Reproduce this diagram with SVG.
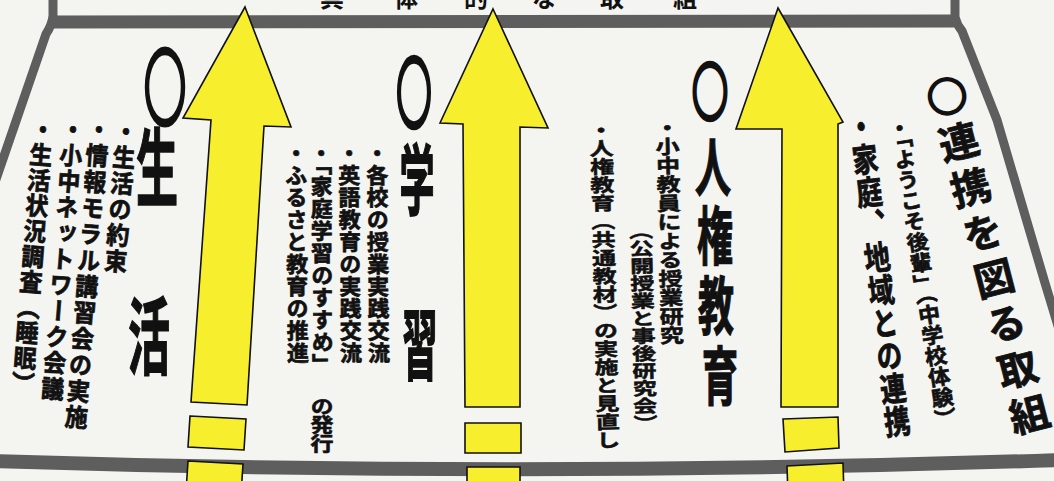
<svg xmlns="http://www.w3.org/2000/svg" width="1054" height="481" viewBox="0 0 1054 481">
<style>
  .bg { fill: #f4f4f1; }
  .frame { fill: none; stroke: #5e5e5e; stroke-linejoin: round; stroke-linecap: butt; }
  .arrow { fill: #f7ef2e; stroke: #111; stroke-width: 1.6; stroke-linejoin: miter; }
  .t { font-family: "Noto Sans CJK JP", "Noto Sans CJK SC", sans-serif; font-weight: 700; fill: #111; }
  .s { stroke: #111; stroke-width: 0.7; }
  .h { stroke: #111; stroke-width: 0.8; }
  .ring { stroke: #111; stroke-width: 2.6; }
  .v { writing-mode: vertical-rl; }
</style>
<rect class="bg" x="0" y="0" width="1054" height="481"/>

<g id="frame">
  <path class="frame" stroke-width="9" d="M53,-5 L53,16 Q52,25 46,34 L-6,185"/>
  <path class="frame" stroke-width="13" d="M50,22 L958,21"/>
  <path class="frame" stroke-width="9" d="M955,-5 L955,17 Q957,25 962,31 L997,120 L1045,283 L1078,392"/>
  <path class="frame" stroke-width="14" d="M-6,461 Q527,478 1060,460"/>
</g>

<g id="title">
  <text class="t" font-size="24" x="332 406 476 544 612 685" y="7" text-anchor="middle">具体的な取組</text>
</g>

<g id="connectors">
  <polygon class="arrow" points="245,7 291,127 264,126 247,405 191,402 211,120 183,118"/>
  <polygon class="arrow" points="190,416 246,419 244,450 188,447"/>
  <polygon class="arrow" points="188,461 243,464 241,495 186,492"/>

  <polygon class="arrow" points="493,9 548,128 520,127 520,407 465,407 463,124 440,123"/>
  <polygon class="arrow" points="465,423 521,423 521,453 465,453"/>
  <polygon class="arrow" points="467,467 520,467 520,495 467,495"/>

  <polygon class="arrow" points="778,8 843,122 838,124 838,407 781,407 782,129 736,129"/>
  <polygon class="arrow" points="783,419 838,417 839,448 785,452"/>
  <polygon class="arrow" points="787,466 843,463 844,495 788,495"/>
</g>

<g id="node-seikatsu">
  <text class="t h" font-size="42" transform="scale(1,2)" x="165 157 149" y="59.5 99.5 184" text-anchor="middle"><tspan class="ring">○</tspan>生活</text>
  <g transform="translate(127,119) rotate(4.5) scale(1,1.08)"><text class="t v s" font-size="23" letter-spacing="1.07" x="0" y="0">・生活の約束</text></g>
  <g transform="translate(100,117) rotate(4.5) scale(1,1.08)"><text class="t v s" font-size="23" letter-spacing="1.3" x="0" y="0">・情報モラル講習会の実施</text></g>
  <g transform="translate(74,117) rotate(4.5) scale(1,1.08)"><text class="t v s" font-size="23" letter-spacing="1.07" x="0" y="0">・小中ネットワーク会議</text></g>
  <g transform="translate(44,117) rotate(4.5) scale(1,1.08)"><text class="t v s" font-size="23" letter-spacing="0.6" x="0" y="0">・生活状況調査（睡眠）</text></g>
</g>

<g id="node-gakushu">
  <text class="t h" font-size="35" transform="scale(1,2.2)" x="414 417 420" y="55.6 95.1 170.1" text-anchor="middle"><tspan class="ring">○</tspan>学習</text>
  <g transform="translate(377,142) rotate(-0.5)"><text class="t v s" font-size="22" letter-spacing="0.2" x="0" y="0">・各校の授業実践交流</text></g>
  <g transform="translate(349,142) rotate(-0.5)"><text class="t v s" font-size="22" letter-spacing="0.2" x="0" y="0">・英語教育の実践交流</text></g>
  <g transform="translate(321,142) rotate(-0.5)"><text class="t v s" font-size="22" letter-spacing="0.2" x="0" y="0">・「家庭学習のすすめ」</text></g>
  <g transform="translate(322,397) scale(1,0.82)"><text class="t v s" font-size="23" x="0" y="0">の発行</text></g>
  <g transform="translate(296,142) rotate(-0.5)"><text class="t v s" font-size="22" letter-spacing="0.2" x="0" y="0">・ふるさと教育の推進</text></g>
</g>

<g id="node-jinken">
  <text class="t h" font-size="36" transform="scale(1,1.75)" x="710 713 715 716 720" y="65.7 109.1 148 188 228" text-anchor="middle"><tspan class="ring">○</tspan>人権教育</text>
  <g transform="translate(667,118) rotate(-1.3) scale(1,0.8)"><text class="t v s" font-size="24" letter-spacing="-0.4" x="0" y="0">・小中教員による授業研究</text></g>
  <g transform="translate(641,222) rotate(-1.3) scale(1,0.73)"><text class="t v s" font-size="24" x="0" y="0">（公開授業と事後研究会）</text></g>
  <g transform="translate(601,121) rotate(-1.3) scale(1,0.76)"><text class="t v s" font-size="24" x="0" y="0">・人権教育（共通教材）の実施と見直し</text></g>
</g>

<g id="node-renkei">
  <g transform="translate(942,77) rotate(-14.5)"><text class="t v h" font-size="40" letter-spacing="6.9" x="0" y="0"><tspan class="ring">○</tspan>連携を図る取組</text></g>
  <g transform="translate(898,117.5) rotate(-9) scale(1,0.95)"><text class="t v s" font-size="22" letter-spacing="0.1" x="0" y="0">・「ようこそ後輩」（中学校体験）</text></g>
  <g transform="translate(859,110) rotate(-7) scale(1,1.27)"><text class="t v s" font-size="26" x="0" y="0">・家庭、地域との連携</text></g>
</g>
</svg>
